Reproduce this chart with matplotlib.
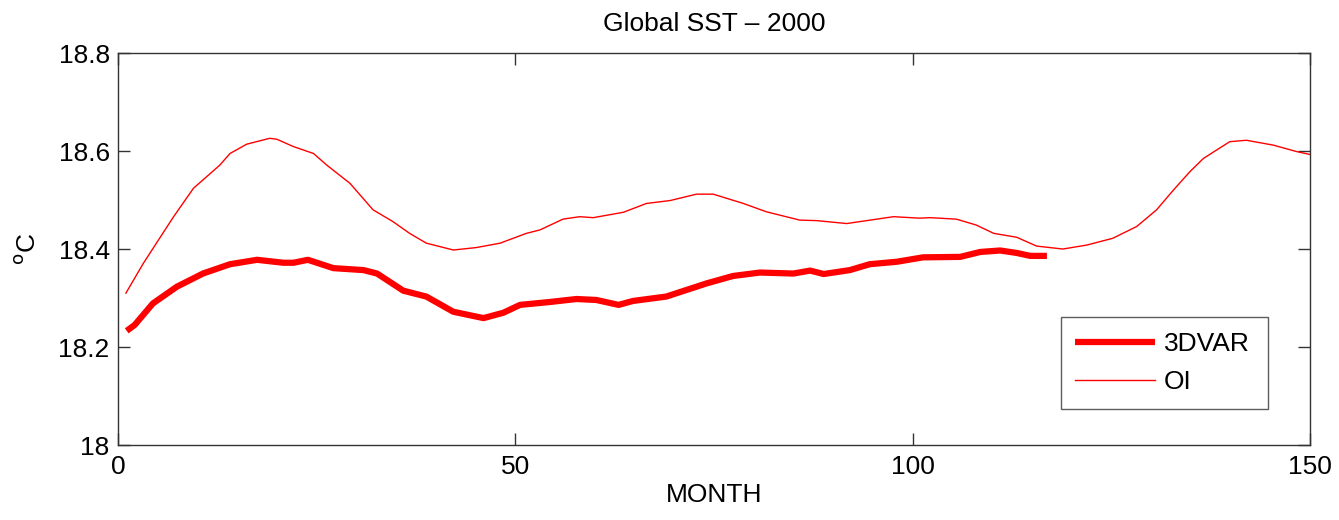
import matplotlib
matplotlib.use('Agg')
import matplotlib.pyplot as plt

plt.rcParams['font.family'] = ['Liberation Sans', 'DejaVu Sans']

# OI global SST
oi_month = [1, 3.2, 7.0, 9.5, 12.8, 14.1, 16.2, 19.1, 20.0, 22.1, 24.6, 26.3, 29.2, 32.1,
            34.6, 36.7, 38.8, 42.2, 45.1, 48.1, 51.4, 53.1, 56.0, 58.1, 59.8, 63.6, 66.5,
            69.5, 72.8, 74.9, 78.7, 81.6, 85.8, 87.9, 91.7, 97.6, 100.9, 102.2, 105.5,
            108.0, 110.2, 113.1, 115.6, 118.9, 121.9, 125.2, 128.2, 130.7, 132.8, 134.9,
            136.6, 139.9, 142.0, 145.4, 148.3, 150]
oi_sst = [18.310, 18.371, 18.466, 18.524, 18.571, 18.595, 18.614, 18.626, 18.624, 18.609,
          18.595, 18.571, 18.534, 18.480, 18.456, 18.432, 18.412, 18.398, 18.403, 18.412,
          18.432, 18.439, 18.461, 18.466, 18.464, 18.475, 18.493, 18.499, 18.512, 18.512,
          18.493, 18.476, 18.459, 18.458, 18.452, 18.466, 18.463, 18.464, 18.461, 18.449,
          18.432, 18.424, 18.406, 18.400, 18.408, 18.422, 18.446, 18.480, 18.520, 18.558,
          18.585, 18.619, 18.622, 18.612, 18.599, 18.593]

# 3DVAR global SST
var_month = [1.1, 2.1, 4.4, 7.4, 10.7, 14.1, 17.5, 20.8, 22.1, 23.9, 27.1, 30.9, 32.6,
             35.9, 38.8, 42.2, 46.0, 48.5, 50.6, 54.4, 57.7, 60.2, 63.0, 64.8, 69.0,
             74.1, 77.4, 80.8, 85.0, 87.1, 88.8, 92.1, 94.6, 98.0, 101.3, 106.0, 108.5,
             111.0, 113.1, 114.8, 116.9]
var_sst = [18.233, 18.245, 18.289, 18.323, 18.350, 18.369, 18.378, 18.372, 18.372, 18.378,
           18.361, 18.357, 18.350, 18.315, 18.303, 18.272, 18.259, 18.270, 18.286, 18.292,
           18.298, 18.296, 18.286, 18.294, 18.303, 18.330, 18.345, 18.352, 18.350, 18.356,
           18.349, 18.357, 18.369, 18.374, 18.383, 18.384, 18.394, 18.397, 18.392, 18.386,
           18.386]

x_ticks = [0, 50, 100, 150]
y_ticks = [18, 18.2, 18.4, 18.6, 18.8]
y_tick_labels = ['18', '18.2', '18.4', '18.6', '18.8']

FS = 19
EDGE = '#333333'

fig = plt.figure(figsize=(13.39, 5.2), dpi=100)
ax = fig.add_axes([0.0881, 0.1442, 0.8902, 0.7538])

ax.plot(var_month, var_sst, color='#ff0000', lw=4.5, solid_capstyle='butt', label='3DVAR')
ax.plot(oi_month, oi_sst, color='#ff0000', lw=1.0, label='OI')

ax.set_xlim(0, 150)
ax.set_ylim(18, 18.8)
ax.set_xticks(x_ticks)
ax.set_yticks(y_ticks)
ax.set_yticklabels(y_tick_labels)
ax.tick_params(direction='in', length=8.5, width=1, color=EDGE, labelsize=FS,
               top=True, right=True)
ax.tick_params(axis='x', pad=7)
ax.tick_params(axis='y', pad=6)
for s in ax.spines.values():
    s.set_color(EDGE)
    s.set_linewidth(1)

ax.set_title('Global SST \u2013 2000', fontsize=FS, pad=16)
ax.set_xlabel('MONTH', fontsize=FS, labelpad=3)
ax.set_ylabel('$^{\\mathrm{o}}$C', fontsize=FS, labelpad=13)

leg = ax.legend(loc='lower left', bbox_to_anchor=(0.791, 0.092, 0.174, 0.265),
                mode='expand', fontsize=FS, frameon=True, fancybox=False,
                handlelength=3.0, handletextpad=0.35, labelspacing=0.55,
                borderpad=0.55, borderaxespad=0)
leg.get_frame().set_edgecolor(EDGE)
leg.get_frame().set_linewidth(1)

fig.savefig('out.png', dpi=100)
